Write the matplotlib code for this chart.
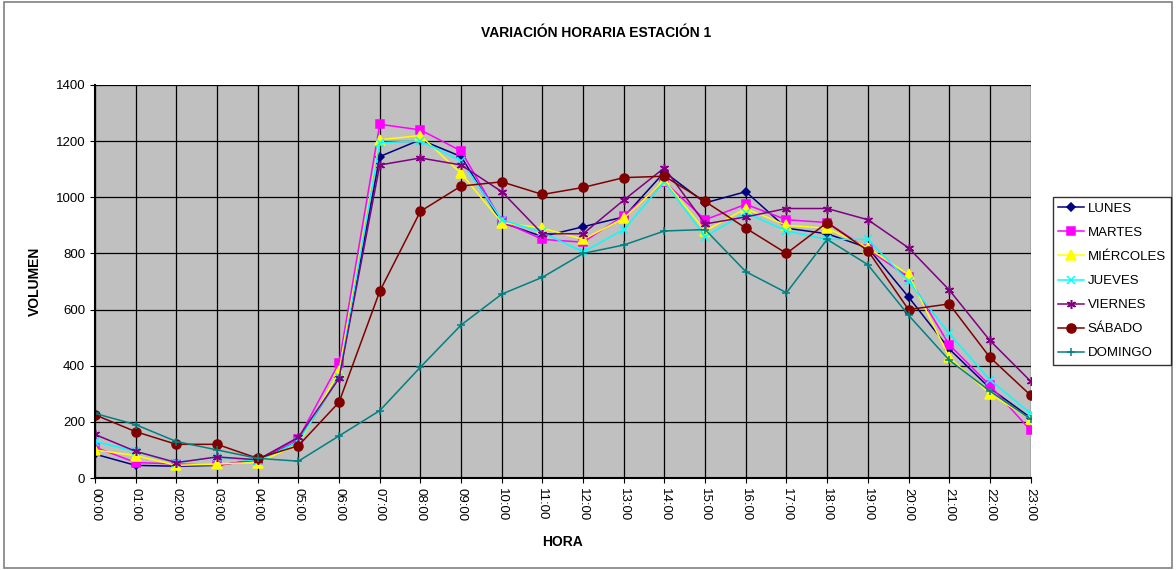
import matplotlib.pyplot as plt
from matplotlib.patches import Rectangle

plt.rcParams['font.family'] = ['Liberation Sans', 'DejaVu Sans']

horas = ['%02d:00' % h for h in range(24)]

lunes = [85, 45, 42, 45, 65, 130, 360, 1145, 1205, 1145, 910, 860,
         895, 930, 1090, 980, 1020, 890, 870, 820, 645, 460, 320, 215]
martes = [110, 55, 50, 45, 65, 140, 410, 1260, 1240, 1165, 915, 850,
          840, 935, 1055, 920, 975, 920, 910, 815, 715, 475, 330, 170]
miercoles = [100, 80, 45, 50, 55, 120, 380, 1205, 1220, 1085, 910, 890,
             850, 925, 1060, 880, 960, 900, 890, 820, 725, 430, 300, 210]
jueves = [130, 95, 55, 75, 60, 130, 360, 1195, 1200, 1130, 920, 875,
          805, 885, 1055, 860, 945, 880, 850, 850, 700, 515, 350, 230]
viernes = [155, 95, 55, 75, 65, 145, 355, 1115, 1140, 1115, 1020, 870,
           870, 990, 1105, 905, 930, 960, 960, 920, 820, 670, 490, 345]
sabado = [225, 165, 120, 120, 70, 115, 270, 665, 950, 1040, 1055, 1010,
          1035, 1070, 1075, 985, 890, 800, 910, 810, 600, 620, 430, 295]
domingo = [230, 190, 130, 100, 70, 60, 150, 240, 395, 545, 655, 715,
           800, 830, 880, 885, 735, 660, 850, 760, 580, 420, 310, 210]

series = [
    ('LUNES', lunes, '#000080', 'D', 4.5),
    ('MARTES', martes, '#FF00FF', 's', 6),
    ('MIÉRCOLES', miercoles, '#FFFF00', '^', 6.5),
    ('JUEVES', jueves, '#00FFFF', 'x', 5.5),
    ('VIERNES', viernes, '#800080', (6, 2, 0), 6.5),
    ('SÁBADO', sabado, '#800000', 'o', 6.5),
    ('DOMINGO', domingo, '#008080', '+', 5.5),
]

fig = plt.figure(figsize=(11.76, 5.7), dpi=100)
fig.patches.append(Rectangle((0.003, 0.003), 0.994, 0.993, transform=fig.transFigure,
                             fill=False, edgecolor='#808080', lw=1.2))
ax = fig.add_axes([0.0808, 0.1614, 0.7955, 0.6895])
ax.set_facecolor('#C0C0C0')

x = list(range(24))
for name, vals, color, marker, ms in series:
    ax.plot(x, vals, color=color, marker=marker, markersize=ms, lw=1.1,
            markeredgewidth=1.1, label=name)

ax.set_xlim(0, 23)
ax.set_ylim(0, 1400)
ax.set_yticks(range(0, 1401, 200))
ax.set_xticks(x)
ax.set_xticklabels(horas, rotation=270, fontsize=9.5)
ax.tick_params(axis='y', labelsize=9.5)
ax.grid(True, color='black', lw=0.9)
ax.set_axisbelow(True)
for s in ['top', 'right']:
    ax.spines[s].set_visible(False)
ax.spines['left'].set_linewidth(1.5)
ax.spines['bottom'].set_linewidth(1.5)

ax.set_xlabel('HORA', fontsize=10, fontweight='bold', labelpad=10)
ax.set_ylabel('VOLUMEN', fontsize=10, fontweight='bold', labelpad=10)
fig.text(0.507, 0.942, 'VARIACIÓN HORARIA ESTACIÓN 1', ha='center', va='center',
         fontsize=10, fontweight='bold')

leg = fig.legend(loc='center left', bbox_to_anchor=(0.895, 0.507), fontsize=9.5,
                 frameon=True, fancybox=False, edgecolor='black', handlelength=2.0,
                 borderpad=0.4, labelspacing=0.9, handletextpad=0.25,
                 borderaxespad=0)
leg.get_frame().set_linewidth(1.0)

fig.savefig('out.png', dpi=100)
